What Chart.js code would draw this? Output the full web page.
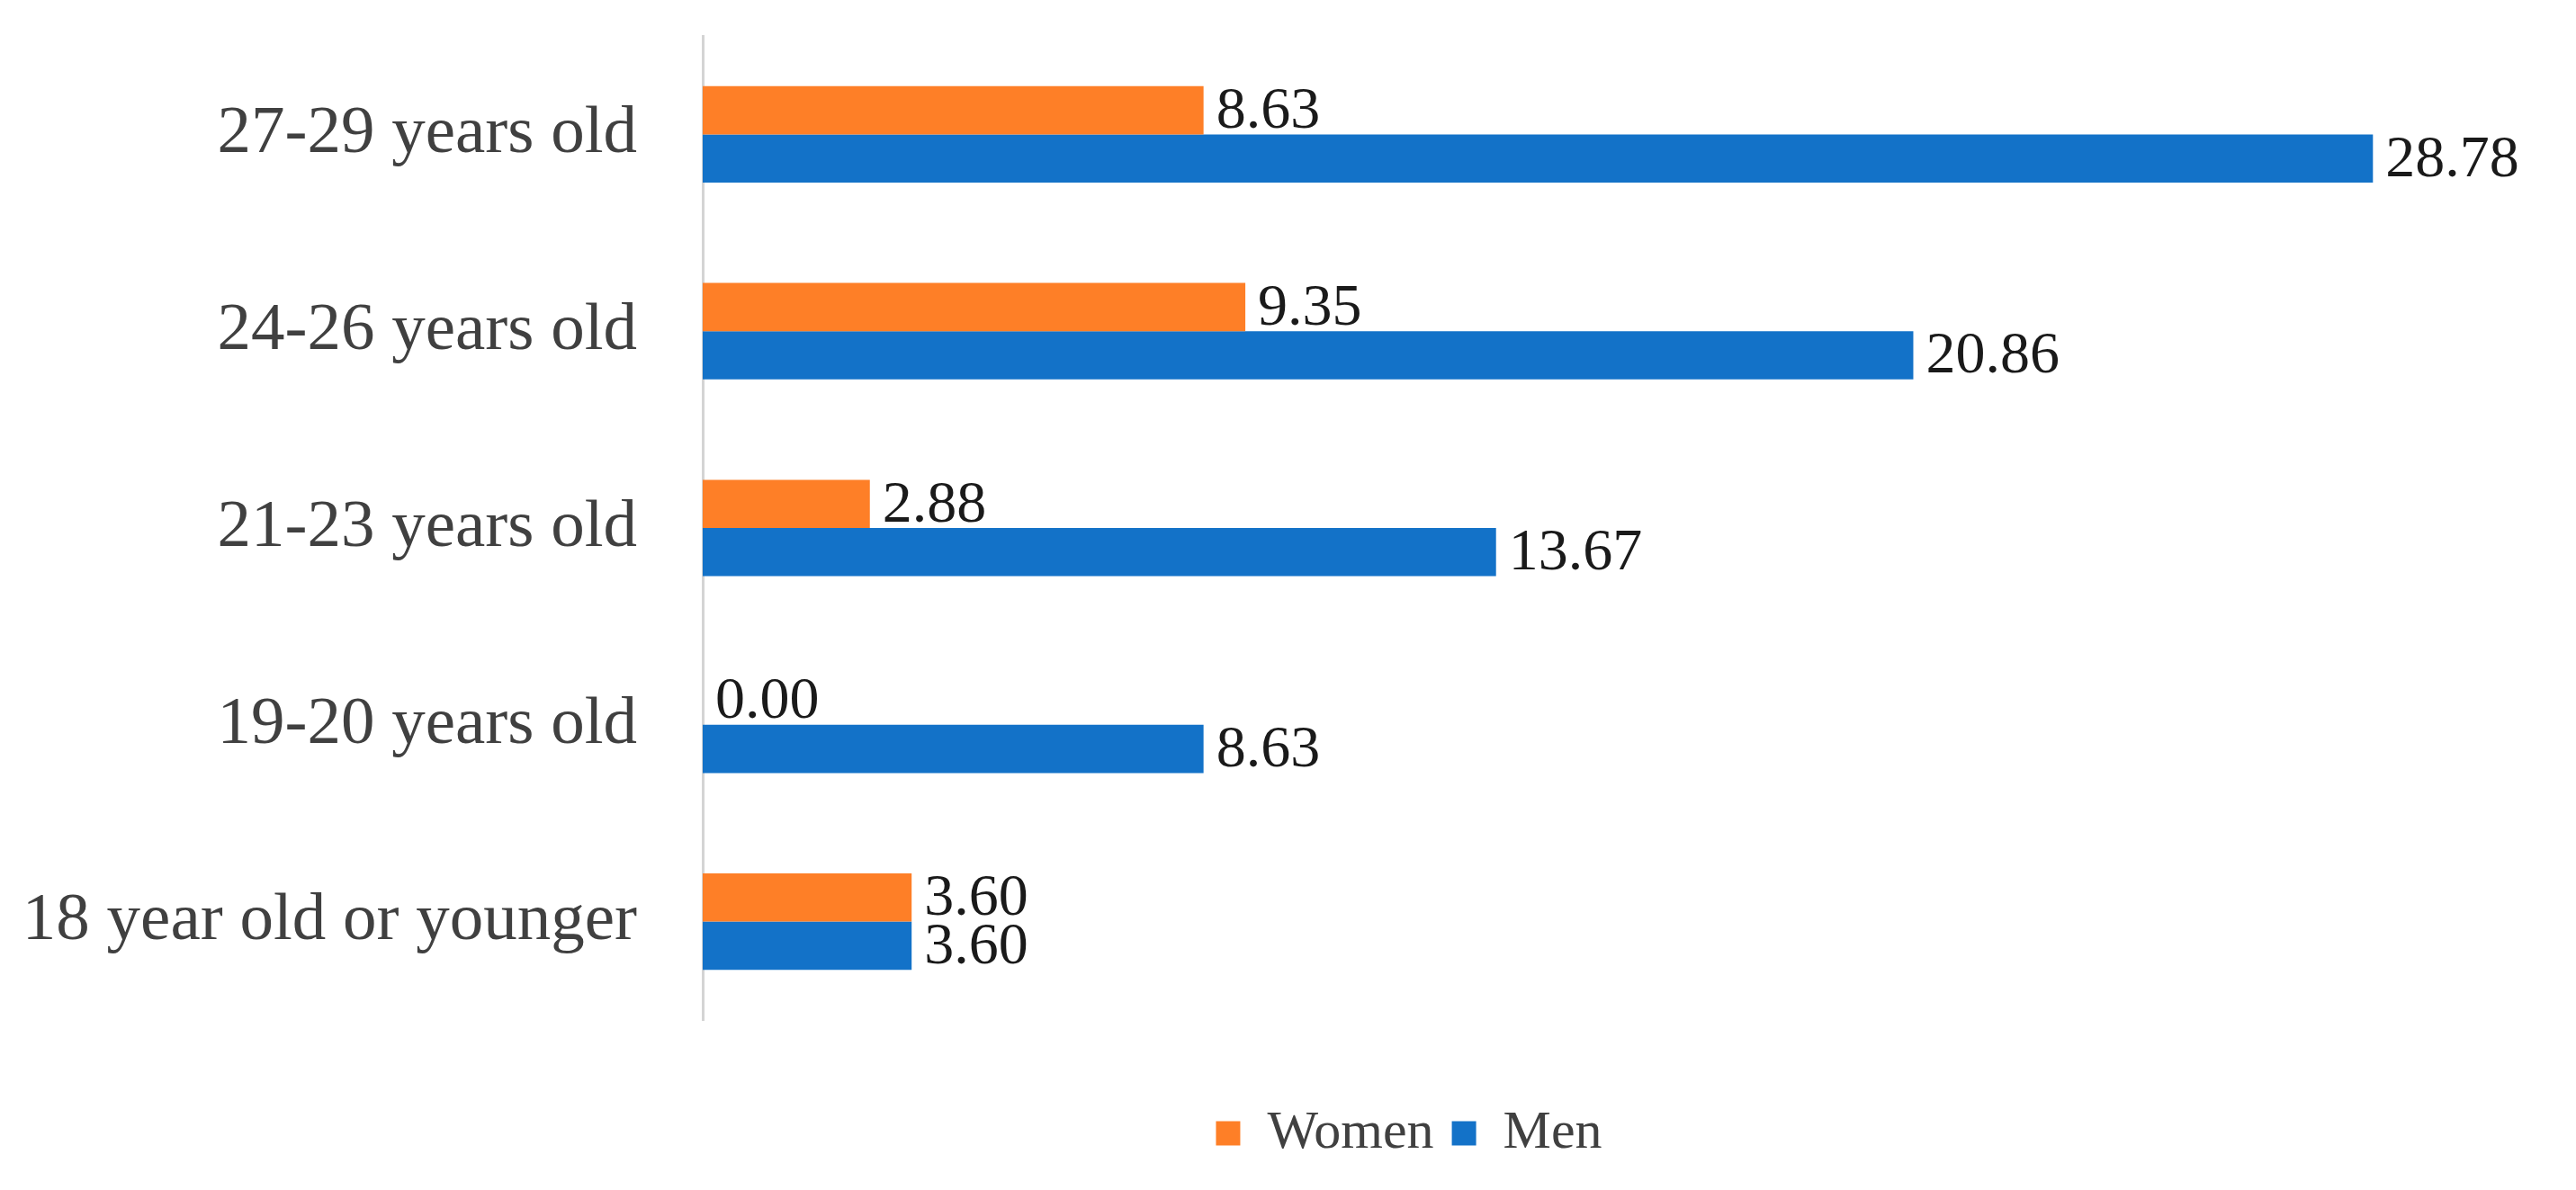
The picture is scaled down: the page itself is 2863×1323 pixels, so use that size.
<!DOCTYPE html>
<html>
<head>
<meta charset="utf-8">
<script src="https://cdn.jsdelivr.net/npm/chart.js@4.4.1/dist/chart.umd.min.js"></script>
<style>
  html, body { margin: 0; padding: 0; background: #fff; }
  #wrap { width: 2863px; height: 1323px; }
</style>
</head>
<body>
<div id="wrap"><canvas id="ageChart"></canvas></div>
<script>
// age groups, top to bottom as shown
const categories = ['27-29 years old', '24-26 years old', '21-23 years old', '19-20 years old', '18 year old or younger'];
const women = [8.63, 9.35, 2.88, 0.00, 3.60];
const men = [28.78, 20.86, 13.67, 8.63, 3.60];

// writes the value next to the end of each bar
const valueLabels = {
    id: 'valueLabels',
    afterDatasetsDraw(chart) {
        const ctx = chart.ctx;
        ctx.save();
        ctx.font = '66px "Liberation Serif"';
        ctx.fillStyle = '#1a1a1a';
        ctx.textAlign = 'left';
        ctx.textBaseline = 'middle';
        chart.data.datasets.forEach((ds, i) => {
            chart.getDatasetMeta(i).data.forEach((bar, j) => {
                ctx.fillText(ds.data[j].toFixed(2), bar.x + 14, bar.y + 2);
            });
        });
        ctx.restore();
    }
};

// nudge the legend to where it sits in the original
const legendShift = {
    id: 'legendShift',
    afterLayout(chart) {
        const lg = chart.legend;
        if (!lg) return;
        lg.left += 208; lg.right += 208;
        lg.top += 76; lg.bottom += 76;
    }
};

const ctx = document.getElementById('ageChart').getContext('2d');
const ageChart = new Chart(ctx, {
    type: 'bar',
    data: {
        labels: categories,
        datasets: [{
            label: 'Women',
            data: women,
            backgroundColor: '#FE7F27',
            categoryPercentage: 0.49,
            barPercentage: 1.0
        }, {
            label: 'Men',
            data: men,
            backgroundColor: '#1372C8',
            categoryPercentage: 0.49,
            barPercentage: 1.0
        }]
    },
    options: {
        indexAxis: 'y',
        responsive: true,
        maintainAspectRatio: false,
        animation: false,
        layout: {
            padding: { top: 40, bottom: 99, left: 0, right: 147 }
        },
        scales: {
            x: {
                display: false,
                min: 0,
                max: 30
            },
            y: {
                grid: { display: false, drawTicks: false },
                border: { display: true, color: '#d4d4d4', width: 3 },
                ticks: {
                    color: '#404040',
                    padding: 73,
                    font: { family: 'Liberation Serif', size: 75 }
                },
                afterFit(scale) {
                    scale.width = 781; // axis line position
                    scale.paddingTop = 0;
                    scale.paddingBottom = 0;
                }
            }
        },
        plugins: {
            legend: {
                position: 'bottom',
                labels: {
                    color: '#404040',
                    boxWidth: 27,
                    boxHeight: 27,
                    padding: 20,
                    font: { family: 'Liberation Serif', size: 60 }
                }
            },
            tooltip: { enabled: false }
        }
    },
    plugins: [valueLabels, legendShift]
});
</script>
</body>
</html>
